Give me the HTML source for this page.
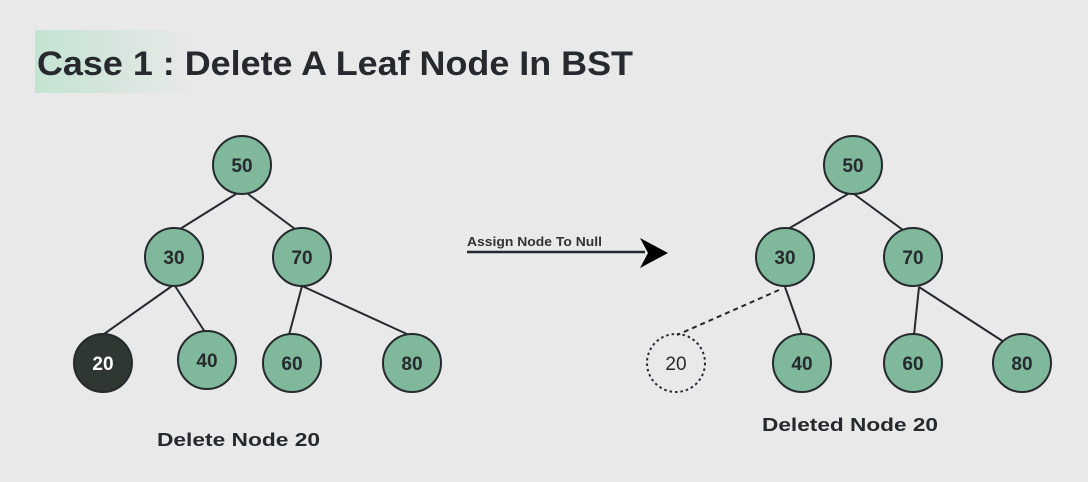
<!DOCTYPE html>
<html><head><meta charset="utf-8"><style>
html,body{margin:0;padding:0;background:#e9e9e9;}
svg{display:block;}
text{font-family:"Liberation Sans",sans-serif;}
</style></head><body>
<svg width="1088" height="482" viewBox="0 0 1088 482" xmlns="http://www.w3.org/2000/svg">
<defs>
<linearGradient id="g" x1="0" x2="1" y1="0" y2="0">
<stop offset="0" stop-color="#c4e3d2"/><stop offset="1" stop-color="#e9e9e9"/>
</linearGradient>
</defs>
<rect width="1088" height="482" fill="#e9e9e9"/>
<rect x="35" y="30" width="160" height="63" fill="url(#g)"/>
<text x="37" y="75" font-size="34" font-weight="bold" fill="#262a2e" textLength="596" lengthAdjust="spacingAndGlyphs">Case 1 : Delete A Leaf Node In BST</text>

<g stroke="#262a2e" stroke-width="2" fill="none">
<line x1="236" y1="194" x2="180" y2="229"/>
<line x1="248" y1="194" x2="295" y2="229"/>
<line x1="172" y1="286" x2="104" y2="334"/>
<line x1="175" y1="286" x2="205" y2="332"/>
<line x1="302" y1="286" x2="289" y2="335"/>
<line x1="302" y1="286" x2="409" y2="335"/>
<line x1="848" y1="194" x2="788" y2="229"/>
<line x1="854" y1="194" x2="903" y2="230"/>
<line x1="785" y1="287" x2="802" y2="335"/>
<line x1="919" y1="287" x2="914" y2="335"/>
<line x1="919" y1="287" x2="1004" y2="342"/>
<line x1="779" y1="290" x2="677" y2="335" stroke-dasharray="5,4"/>
<line x1="467" y1="252" x2="645" y2="252" stroke-width="2.5"/>
</g>
<polygon points="640,238 668,253 640,268 648,253" fill="#000"/>
<text x="467" y="246" font-size="13" font-weight="bold" fill="#333" textLength="135" lengthAdjust="spacingAndGlyphs">Assign Node To Null</text>

<g stroke="#262a2e" stroke-width="2" fill="#7fb89a">
<circle cx="242" cy="165" r="29"/>
<circle cx="174" cy="257" r="29"/>
<circle cx="302" cy="257" r="29"/>
<circle cx="207" cy="360" r="29"/>
<circle cx="292" cy="363" r="29"/>
<circle cx="412" cy="363" r="29"/>
<circle cx="853" cy="165" r="29"/>
<circle cx="785" cy="257" r="29"/>
<circle cx="913" cy="257" r="29"/>
<circle cx="802" cy="363" r="29"/>
<circle cx="913" cy="363" r="29"/>
<circle cx="1022" cy="363" r="29"/>
<circle cx="103" cy="363" r="29" fill="#2e3732"/>
<circle cx="676" cy="363" r="29" fill="none" stroke-dasharray="2.5,3"/>
</g>
<g font-size="19" font-weight="bold" fill="#262a2e" text-anchor="middle">
<text x="242" y="172">50</text>
<text x="174" y="264">30</text>
<text x="302" y="264">70</text>
<text x="207" y="367">40</text>
<text x="292" y="370">60</text>
<text x="412" y="370">80</text>
<text x="103" y="370" fill="#fff">20</text>
<text x="853" y="172">50</text>
<text x="785" y="264">30</text>
<text x="913" y="264">70</text>
<text x="802" y="370">40</text>
<text x="913" y="370">60</text>
<text x="1022" y="370">80</text>
<text x="676" y="370" font-weight="normal">20</text>
</g>
<text x="157" y="446" font-size="18" font-weight="bold" fill="#262a2e" textLength="163" lengthAdjust="spacingAndGlyphs">Delete Node 20</text>
<text x="762" y="431" font-size="18" font-weight="bold" fill="#262a2e" textLength="176" lengthAdjust="spacingAndGlyphs">Deleted Node 20</text>
</svg>
</body></html>
